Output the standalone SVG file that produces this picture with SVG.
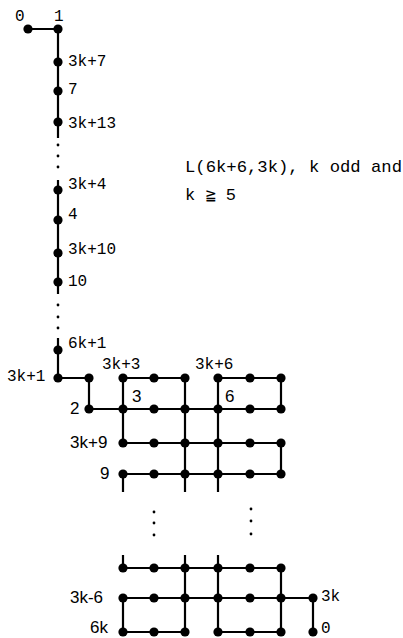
<svg xmlns="http://www.w3.org/2000/svg" width="403" height="638" viewBox="0 0 403 638">
<style>
.bg{fill:#fff}
.e{stroke:#000;stroke-width:2.2;fill:none;stroke-linecap:butt}
.n{fill:#000}
.d{fill:#000}
.m{font-family:"Liberation Mono","DejaVu Sans Mono",monospace;font-size:16px;fill:#000}
.s{font-family:"Liberation Sans",Arial,sans-serif;font-size:17px;fill:#000}
.t{font-family:"Liberation Mono","DejaVu Sans Mono",monospace;font-size:17px;fill:#000}
</style>
<defs>
<circle id="dot" r="4.6" class="n"/>
</defs>
<rect class="bg" width="403" height="638"/>
<g id="connectors">
<path class="e" d="M28 29H58V138M58 180V294M58 338V378H89V409H281M123 378H185M218 378H281M123 378V443M185 378V492M218 378V492M281 378V409M281 443V474M123 443H281M123 474H281M123 474V492"/>
<path class="e" d="M123 555V568M185 555V632M218 555V632M123 568H281M281 568V632M123 598H313V632M123 598V632M123 632H185M218 632H281"/>
<g class="d">
<circle cx="58" cy="145" r="1.4"/><circle cx="58" cy="156" r="1.4"/><circle cx="58" cy="167" r="1.4"/>
<circle cx="58" cy="305" r="1.4"/><circle cx="58" cy="317" r="1.4"/><circle cx="58" cy="328" r="1.4"/>
<circle cx="154" cy="512" r="1.4"/><circle cx="154" cy="523" r="1.4"/><circle cx="154" cy="535" r="1.4"/>
<circle cx="251" cy="509" r="1.4"/><circle cx="251" cy="521" r="1.4"/><circle cx="251" cy="534" r="1.4"/>
</g>
</g>
<g id="n-0"><use href="#dot" x="28" y="29"/><text class="m" x="15" y="21">0</text></g>
<g id="n-1"><use href="#dot" x="58" y="29"/><text class="m" x="54" y="21">1</text></g>
<g id="n-3k7"><use href="#dot" x="58" y="62"/><text class="m" x="68" y="66">3k+7</text></g>
<g id="n-7"><use href="#dot" x="58" y="91"/><text class="m" x="68" y="94">7</text></g>
<g id="n-3k13"><use href="#dot" x="58" y="122"/><text class="m" x="68" y="128">3k+13</text></g>
<g id="n-3k4"><use href="#dot" x="58" y="190"/><text class="m" x="68" y="189">3k+4</text></g>
<g id="n-4"><use href="#dot" x="58" y="220"/><text class="m" x="68" y="219">4</text></g>
<g id="n-3k10"><use href="#dot" x="58" y="253"/><text class="m" x="68" y="254">3k+10</text></g>
<g id="n-10"><use href="#dot" x="58" y="282"/><text class="m" x="68" y="286">10</text></g>
<g id="n-6k1"><use href="#dot" x="58" y="350"/><text class="m" x="68" y="348">6k+1</text></g>
<g id="n-3k1"><use href="#dot" x="58" y="378"/><text class="m" x="7" y="381">3k+1</text></g>
<g id="n-a"><use href="#dot" x="89" y="378"/></g>
<g id="n-2"><use href="#dot" x="89" y="409"/><text class="s" x="70" y="414">2</text></g>
<g id="n-3k3"><use href="#dot" x="123" y="378"/><text class="m" x="102" y="369">3k+3</text></g>
<g id="n-r1c2"><use href="#dot" x="154" y="378"/></g>
<g id="n-r1c3"><use href="#dot" x="185" y="378"/></g>
<g id="n-3k6"><use href="#dot" x="218" y="378"/><text class="m" x="195" y="369">3k+6</text></g>
<g id="n-r1c5"><use href="#dot" x="250" y="378"/></g>
<g id="n-r1c6"><use href="#dot" x="281" y="378"/></g>
<g id="n-3"><use href="#dot" x="123" y="409"/><text class="s" x="132" y="402">3</text></g>
<g id="n-r2c2"><use href="#dot" x="154" y="409"/></g>
<g id="n-r2c3"><use href="#dot" x="185" y="409"/></g>
<g id="n-6"><use href="#dot" x="218" y="409"/><text class="s" x="225" y="402">6</text></g>
<g id="n-r2c5"><use href="#dot" x="250" y="409"/></g>
<g id="n-r2c6"><use href="#dot" x="281" y="409"/></g>
<g id="n-3k9"><use href="#dot" x="123" y="443"/><text class="s" x="70" y="448">3k+9</text></g>
<g id="n-r3c2"><use href="#dot" x="154" y="443"/></g>
<g id="n-r3c3"><use href="#dot" x="185" y="443"/></g>
<g id="n-r3c4"><use href="#dot" x="218" y="443"/></g>
<g id="n-r3c5"><use href="#dot" x="250" y="443"/></g>
<g id="n-r3c6"><use href="#dot" x="281" y="443"/></g>
<g id="n-9"><use href="#dot" x="123" y="474"/><text class="s" x="100" y="479">9</text></g>
<g id="n-r4c2"><use href="#dot" x="154" y="474"/></g>
<g id="n-r4c3"><use href="#dot" x="185" y="474"/></g>
<g id="n-r4c4"><use href="#dot" x="218" y="474"/></g>
<g id="n-r4c5"><use href="#dot" x="250" y="474"/></g>
<g id="n-r4c6"><use href="#dot" x="281" y="474"/></g>
<g id="n-r5c1"><use href="#dot" x="123" y="568"/></g>
<g id="n-r5c2"><use href="#dot" x="154" y="568"/></g>
<g id="n-r5c3"><use href="#dot" x="185" y="568"/></g>
<g id="n-r5c4"><use href="#dot" x="218" y="568"/></g>
<g id="n-r5c5"><use href="#dot" x="250" y="568"/></g>
<g id="n-r5c6"><use href="#dot" x="281" y="568"/></g>
<g id="n-3km6"><use href="#dot" x="123" y="598"/><text class="s" x="70" y="603">3k-6</text></g>
<g id="n-r6c2"><use href="#dot" x="154" y="598"/></g>
<g id="n-r6c3"><use href="#dot" x="185" y="598"/></g>
<g id="n-r6c4"><use href="#dot" x="218" y="598"/></g>
<g id="n-r6c5"><use href="#dot" x="250" y="598"/></g>
<g id="n-r6c6"><use href="#dot" x="281" y="598"/></g>
<g id="n-3k"><use href="#dot" x="313" y="598"/><text class="m" x="321" y="601">3k</text></g>
<g id="n-6k"><use href="#dot" x="123" y="632"/><text class="s" x="90" y="633">6k</text></g>
<g id="n-r7c2"><use href="#dot" x="154" y="632"/></g>
<g id="n-r7c3"><use href="#dot" x="185" y="632"/></g>
<g id="n-r7c4"><use href="#dot" x="218" y="632"/></g>
<g id="n-r7c5"><use href="#dot" x="250" y="632"/></g>
<g id="n-r7c6"><use href="#dot" x="281" y="632"/></g>
<g id="n-0b"><use href="#dot" x="313" y="632"/><text class="m" x="321" y="633">0</text></g>
<g id="title">
<text class="t" x="185" y="172" textLength="217" lengthAdjust="spacingAndGlyphs">L(6k+6,3k), k odd and</text>
<text class="t" x="185" y="200">k ≧ 5</text>
</g>
</svg>
